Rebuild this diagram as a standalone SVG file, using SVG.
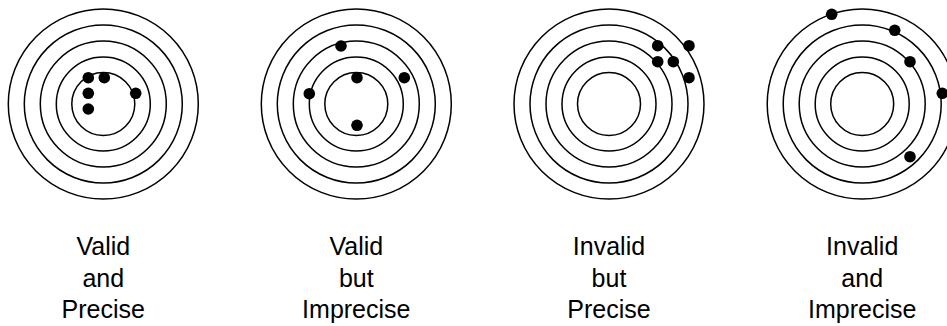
<svg xmlns="http://www.w3.org/2000/svg" width="947" height="326" viewBox="0 0 947 326">
<defs>
<style>
.ring{fill:none;stroke:#000;stroke-width:1.5}
.dot{fill:#000}
.lbl{font-family:"Liberation Sans",Arial,sans-serif;font-size:25px;fill:#000;text-anchor:middle}
</style>
<g id="rings">
<circle class="ring" r="95"/>
<circle class="ring" r="79"/>
<circle class="ring" r="63"/>
<circle class="ring" r="47"/>
<circle class="ring" r="31.5"/>
</g>
</defs>
<rect width="947" height="326" fill="#fff"/>
<g id="target1">
<use href="#rings" x="103.3" y="104"/>
<circle class="dot" cx="88.3" cy="77.7" r="5.8"/>
<circle class="dot" cx="104.3" cy="77.7" r="5.8"/>
<circle class="dot" cx="88.3" cy="93.3" r="5.8"/>
<circle class="dot" cx="88.3" cy="109" r="5.8"/>
<circle class="dot" cx="135.7" cy="93.3" r="5.8"/>
<text class="lbl" x="103.3" y="255">Valid</text>
<text class="lbl" x="103.3" y="286.5">and</text>
<text class="lbl" x="103.3" y="318">Precise</text>
</g>
<g id="target2">
<use href="#rings" x="356.3" y="104"/>
<circle class="dot" cx="341" cy="46" r="5.8"/>
<circle class="dot" cx="357" cy="77.7" r="5.8"/>
<circle class="dot" cx="404.3" cy="77.7" r="5.8"/>
<circle class="dot" cx="309.3" cy="93.7" r="5.8"/>
<circle class="dot" cx="357" cy="125.3" r="5.8"/>
<text class="lbl" x="356.3" y="255">Valid</text>
<text class="lbl" x="356.3" y="286.5">but</text>
<text class="lbl" x="356.3" y="318">Imprecise</text>
</g>
<g id="target3">
<use href="#rings" x="609" y="104"/>
<circle class="dot" cx="657.7" cy="45.7" r="5.8"/>
<circle class="dot" cx="689" cy="45.7" r="5.8"/>
<circle class="dot" cx="657.7" cy="61.7" r="5.8"/>
<circle class="dot" cx="673.3" cy="61.7" r="5.8"/>
<circle class="dot" cx="689" cy="77.7" r="5.8"/>
<text class="lbl" x="609" y="255">Invalid</text>
<text class="lbl" x="609" y="286.5">but</text>
<text class="lbl" x="609" y="318">Precise</text>
</g>
<g id="target4">
<use href="#rings" x="862.2" y="104"/>
<circle class="dot" cx="831.7" cy="14.3" r="5.8"/>
<circle class="dot" cx="894.7" cy="30.3" r="5.8"/>
<circle class="dot" cx="910" cy="61.7" r="5.8"/>
<circle class="dot" cx="942.3" cy="93.3" r="5.8"/>
<circle class="dot" cx="910" cy="156.7" r="5.8"/>
<text class="lbl" x="862.2" y="255">Invalid</text>
<text class="lbl" x="862.2" y="286.5">and</text>
<text class="lbl" x="862.2" y="318">Imprecise</text>
</g>
<g id="connectors"/>
</svg>
